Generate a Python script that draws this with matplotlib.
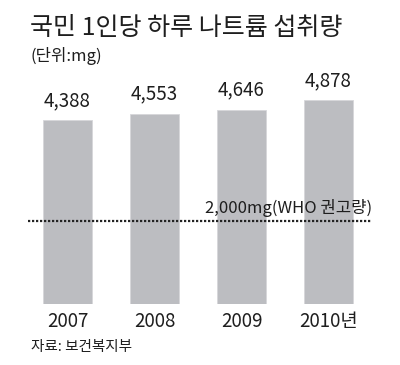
import numpy as np
import matplotlib
matplotlib.use("Agg")
import matplotlib.pyplot as plt

plt.rcParams['font.family'] = ['Noto Sans CJK KR', 'DejaVu Sans']

# data
years = ["2007", "2008", "2009", "2010년"]
sodium = [4388, 4553, 4646, 4878]
who_limit = 2000

bar_color = "#bcbdc1"
text_color = "#1e1e1e"

fig = plt.figure(figsize=(4, 3.65), dpi=100)
ax = fig.add_axes([28/400, 1-304.3/365, 344/400, 209.5/365])

x = np.arange(len(years))
ax.bar(x, sodium, width=0.557, color=bar_color, edgecolor="#d6d7da", linewidth=0.6, zorder=1)
for xi, v in zip(x, sodium):
    ax.annotate(f"{v:,}", (xi, v), xytext=(0, 6.5), textcoords="offset points",
                ha="center", va="bottom", fontsize=13.5, color=text_color)

ax.axhline(who_limit, color="#222222", lw=1.6, ls=(0, (1, 0.8)), zorder=3)
ax.text(3.5, who_limit + 290, f"{who_limit:,}mg(WHO 권고량)", ha="right", va="center",
        fontsize=12, color=text_color)

ax.set_xlim(-0.454, 3.5)
ax.set_ylim(0, 5000)
ax.set_xticks(x)
ax.set_xticklabels(years, fontsize=13.5, color=text_color)
ax.tick_params(axis="x", length=0, pad=4.5)
ax.set_yticks([])
for s in ax.spines.values():
    s.set_visible(False)

fig.text(30/400, 1-28/365, "국민 1인당 하루 나트륨 섭취량", fontsize=18, fontweight="medium",
         color=text_color, va="center", ha="left")
fig.text(30/400, 1-56/365, "(단위:mg)", fontsize=12, color=text_color, va="center", ha="left")
fig.text(31/400, 1-347/365, "자료: 보건복지부", fontsize=10.5, color=text_color, va="center", ha="left")

fig.savefig("out.png", dpi=100)
